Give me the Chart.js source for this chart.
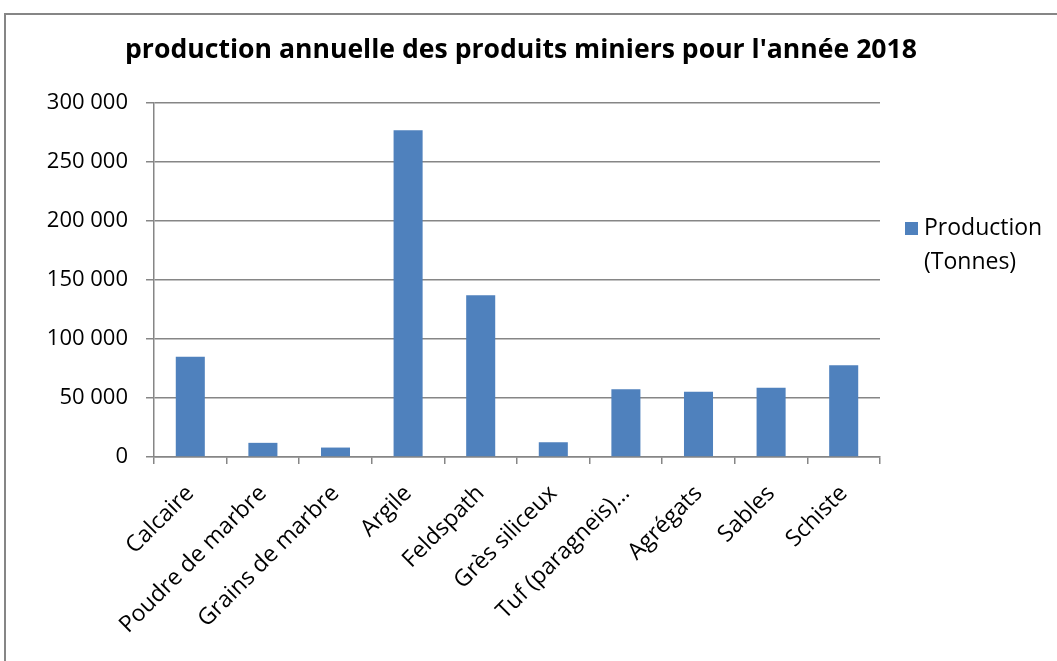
<!DOCTYPE html>
<html>
<head>
<meta charset="utf-8">
<script src="https://cdn.jsdelivr.net/npm/chart.js@4.4.1/dist/chart.umd.min.js"></script>
<style>
  body { margin: 0; background: #fff; }
  #wrap { position: relative; width: 1057px; height: 661px; overflow: hidden; }
  #frame { position: absolute; left: 4px; top: 13px; width: 1100px; height: 700px; border: 2px solid #868686; box-sizing: border-box; }
  canvas { position: absolute; left: 0; top: 0; }
</style>
</head>
<body>
<div id="wrap">
  <div id="frame"></div>
  <canvas id="prodChart" width="1057" height="661"></canvas>
</div>
<script>
// data
const categories = ['Calcaire', 'Poudre de marbre', 'Grains de marbre', 'Argile', 'Feldspath',
  'Grès siliceux', 'Tuf (paragneis)…', 'Agrégats', 'Sables', 'Schiste'];
const production = [85000, 12000, 8000, 277000, 137000, 12500, 57500, 55200, 58600, 77800];
const yTicks = [0, 50000, 100000, 150000, 200000, 250000, 300000];
const seriesLabel = ['Production', '(Tonnes)'];
const titleText = "production annuelle des produits miniers pour l'année 2018";

const barColor = '#4F81BD';
const gridColor = '#868686';
const font = "'Open Sans', sans-serif";

function fmt(v) {
  return String(v).replace(/\B(?=(\d{3})+(?!\d))/g, ' ');
}

// title + two-line legend on the right
const extras = {
  id: 'extras',
  afterDraw(chart) {
    const ctx = chart.ctx;
    ctx.save();
    ctx.fillStyle = '#000';
    ctx.font = "bold 26.6px " + font;
    ctx.textAlign = 'center';
    ctx.textBaseline = 'middle';
    ctx.fillText(titleText, 521, 50);

    ctx.fillStyle = barColor;
    ctx.fillRect(905, 222, 13, 13);
    ctx.fillStyle = '#000';
    ctx.font = "23px " + font;
    ctx.textAlign = 'left';
    seriesLabel.forEach((t, i) => ctx.fillText(t, 924, 228 + i * 34));
    ctx.restore();
  }
};

const ctx = document.getElementById('prodChart').getContext('2d');
new Chart(ctx, {
  type: 'bar',
  data: {
    labels: categories,
    datasets: [{
      label: seriesLabel.join(' '),
      data: production,
      backgroundColor: barColor,
      borderWidth: 0,
      categoryPercentage: 1,
      barPercentage: 0.4
    }]
  },
  options: {
    responsive: false,
    animation: false,
    layout: { padding: { left: 0, right: 177, top: 103, bottom: 0 } },
    plugins: {
      legend: { display: false },
      tooltip: { enabled: false },
      title: { display: false }
    },
    scales: {
      x: {
        grid: { display: true, drawOnChartArea: false, color: gridColor, lineWidth: 1.5, tickLength: 7, offset: true },
        border: { color: gridColor, width: 1.5 },
        ticks: {
          color: '#000',
          font: { family: font, size: 23 },
          maxRotation: 45, minRotation: 45,
          padding: 16,
          autoSkip: false
        },
        afterFit(s) { s.height = 204; }
      },
      y: {
        min: 0, max: 300000,
        afterBuildTicks(s) { s.ticks = yTicks.map(v => ({ value: v })); },
        grid: { color: gridColor, lineWidth: 1.5, tickLength: 8 },
        border: { color: gridColor, width: 1.5 },
        ticks: {
          color: '#000',
          font: { family: font, size: 22 },
          padding: 18,
          callback: v => fmt(v)
        },
        afterFit(s) { s.width = 154; }
      }
    }
  },
  plugins: [extras]
});
</script>
</body>
</html>
